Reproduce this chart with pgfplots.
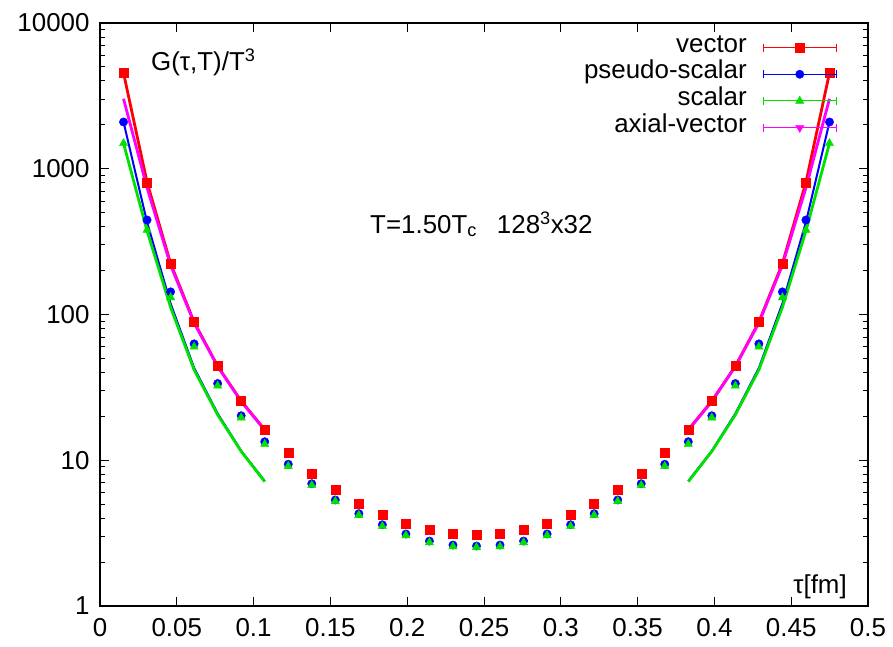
\documentclass[border=0pt]{standalone}
\usepackage{pgfplots}
\pgfplotsset{compat=1.18}
\usepackage{fontspec}
\setmainfont{Liberation Sans}
\definecolor{gpgreen}{RGB}{0,225,0}
\definecolor{gpmag}{RGB}{255,0,255}
\pgfplotstableread{
x vec ps sc
0.01532 4540 2093 1494
0.03064 807 445 380
0.04596 224 143 131
0.06128 88.7 62.9 60
0.07660 44.2 33.6 32.4
0.09192 25.5 20.2 19.6
0.10724 16.2 13.4 12.9
0.12256 11.2 9.39 9.1
0.13788 8.14 6.9 6.73
0.15320 6.25 5.34 5.23
0.16852 5.01 4.30 4.2
0.18384 4.21 3.61 3.52
0.19916 3.69 3.12 3.05
0.21448 3.34 2.79 2.73
0.22980 3.15 2.62 2.56
0.24512 3.08 2.58 2.53
0.26044 3.15 2.62 2.56
0.27576 3.34 2.79 2.73
0.29108 3.69 3.12 3.05
0.30640 4.21 3.61 3.52
0.32172 5.01 4.30 4.2
0.33704 6.25 5.34 5.23
0.35236 8.14 6.9 6.73
0.36768 11.2 9.39 9.1
0.38300 16.2 13.4 12.9
0.39832 25.5 20.2 19.6
0.41364 44.2 33.6 32.4
0.42896 88.7 62.9 60
0.44428 224 143 131
0.45960 807 445 380
0.47492 4540 2093 1494
}\datatab
\pgfplotstableread{
x red mag blue green
0.01532 4540 3020 2093 1494
0.03064 807 740 430 375
0.04596 224 218 119 112
0.06128 88.7 87.5 43 41.7
0.07660 44.2 44 20.9 20.5
0.09192 25.5 25.3 11.6 11.5
0.10724 16.2 16.1 7.2 7.13
}\freeL
\pgfplotstableread{
x red mag blue green
0.38300 16.2 16.1 7.2 7.13
0.39832 25.5 25.3 11.6 11.5
0.41364 44.2 44 20.9 20.5
0.42896 88.7 87.5 43 41.7
0.44428 224 218 119 112
0.45960 807 740 430 375
0.47492 4540 3020 2093 1494
}\freeR
\begin{document}
\begin{tikzpicture}[font=\fontsize{26}{31}\selectfont]
\begin{axis}[
  scale only axis, width=768bp, height=583bp,
  xmin=0, xmax=0.5, ymode=log, ymin=1, ymax=10000,
  xtick={0,0.05,...,0.5},
  xticklabels={0,0.05,0.1,0.15,0.2,0.25,0.3,0.35,0.4,0.45,0.5},
  ytick={1,10,100,1000,10000},
  yticklabels={1,10,100,1000,10000},
  tick align=inside, tick pos=both,
  major tick length=9bp, minor tick length=5bp,
  every tick/.style={black, line width=1bp},
  axis line style={line width=1.5bp},
  /pgf/number format/assume math mode=true,
  xticklabel style={yshift=-9bp},
  yticklabel style={xshift=-7bp},
  legend plot pos=right,
  legend cell align=right,
  legend style={draw=none, fill=none, inner sep=0pt, column sep=16bp, row sep=0pt,
    at={(axis description cs:0.9596,0.9811)}, anchor=north east,
    nodes={inner sep=0pt, text height=18bp, text depth=8.7bp}},
  legend image code/.code={
    \draw[#1, mark=none, line width=1bp] (0bp,0bp) -- (73bp,0bp) (0bp,-4bp) -- (0bp,4bp) (73bp,-4bp) -- (73bp,4bp);
    \draw[#1] plot coordinates {(36.5bp,0bp)};
  },
]
\addlegendimage{red, mark=square*, mark size=4.5bp}
\addlegendentry{vector}
\addlegendimage{blue, mark=*, mark size=4.2bp}
\addlegendentry{pseudo-scalar}
\addlegendimage{gpgreen, mark=triangle*, mark size=4.8bp}
\addlegendentry{scalar}
\addlegendimage{gpmag, mark=triangle*, mark options={rotate=180}, mark size=4.8bp}
\addlegendentry{axial-vector}
% free correlators (lines)
\addplot[red, line width=2.8bp, no marks, forget plot] table[x=x,y=red] {\freeL};
\addplot[red, line width=2.8bp, no marks, forget plot] table[x=x,y=red] {\freeR};
\addplot[blue, line width=2bp, no marks, forget plot] table[x=x,y=blue] {\freeL};
\addplot[blue, line width=2bp, no marks, forget plot] table[x=x,y=blue] {\freeR};
\addplot[gpgreen, line width=2.8bp, no marks, forget plot] table[x=x,y=green] {\freeL};
\addplot[gpgreen, line width=2.8bp, no marks, forget plot] table[x=x,y=green] {\freeR};
\addplot[gpmag, line width=2.8bp, no marks, forget plot] table[x=x,y=mag] {\freeL};
\addplot[gpmag, line width=2.8bp, no marks, forget plot] table[x=x,y=mag] {\freeR};
% lattice data
\addplot[only marks, blue, mark=*, mark size=4.2bp, forget plot] table[x=x,y=ps] {\datatab};
\addplot[only marks, gpgreen, mark=triangle*, mark size=4.8bp, forget plot] table[x=x,y=sc] {\datatab};
\addplot[only marks, red, mark=square*, mark size=4.5bp, forget plot] table[x=x,y=vec] {\datatab};
\node[anchor=base west, inner sep=0pt] at (axis cs:0.0332,4757) {G(τ,T)/T\textsuperscript{3}};
\node[anchor=base west, inner sep=0pt] at (axis cs:0.1758,362) {T=1.50T\textsubscript{c}\hspace{20bp}128\textsuperscript{3}x32};
\node[anchor=base east, inner sep=0pt] at (axis cs:0.4863,1.22) {τ[fm]};
\end{axis}
\pgfresetboundingbox
\path (-100bp,-41bp) rectangle (793bp,606bp);
\end{tikzpicture}
\end{document}
